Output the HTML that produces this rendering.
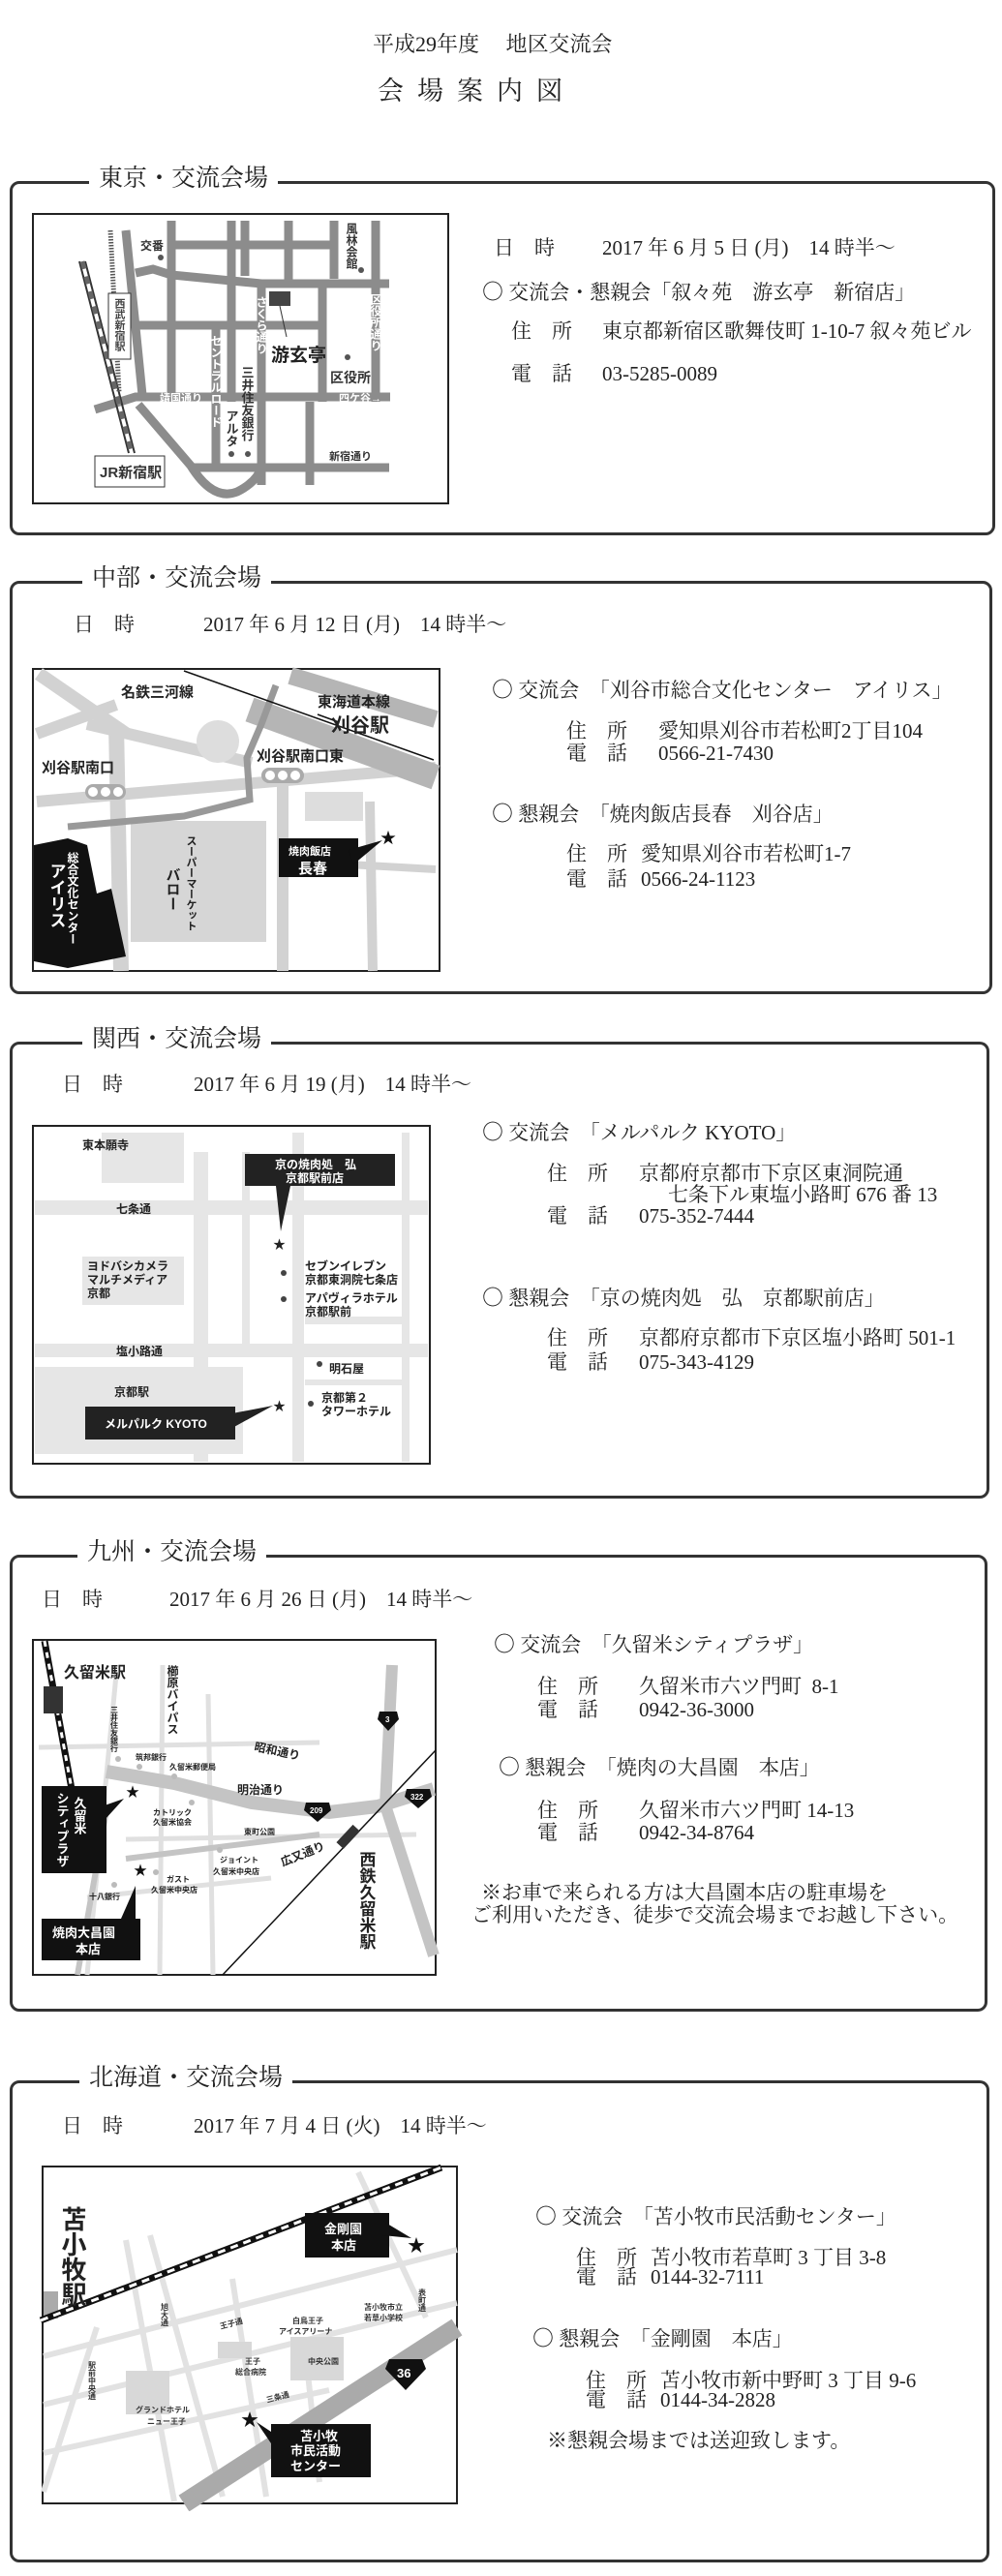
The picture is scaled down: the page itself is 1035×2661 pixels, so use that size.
<!DOCTYPE html>
<html><head><meta charset="utf-8">
<style>
html,body{margin:0;padding:0;background:#fff;}
body{width:1035px;height:2661px;position:relative;overflow:hidden;font-family:"Liberation Serif","Noto Serif CJK JP",serif;color:#222;}
.t{position:absolute;font-size:21px;line-height:24px;white-space:pre;}
.c{font-family:"Noto Serif CJK JP",serif;font-size:22px;}
.box{position:absolute;border:3px solid #333;border-radius:10px;box-sizing:border-box;}
.lab{position:absolute;background:#fff;font-size:25px;line-height:30px;padding:0 10px;white-space:pre;font-family:"Liberation Serif","Noto Serif CJK JP",serif;}
svg{position:absolute;}
svg text{font-family:"Liberation Sans","Noto Sans CJK JP",sans-serif;font-weight:bold;}
</style></head><body>

<div class="t" style="left:385px;top:34px;font-size:22px;">平成29年度　 地区交流会</div>
<div class="t" style="left:390px;top:78px;font-size:27px;line-height:32px;letter-spacing:14px;">会場案内図</div>

<!-- TOKYO -->
<div class="box" style="left:10px;top:187px;width:1018px;height:366px;"></div>
<div class="lab" style="left:92px;top:170px;">東京・交流会場</div>
<svg style="left:30px;top:218px" width="440" height="310" viewBox="0 0 440 310">
<rect x="4" y="3" width="429" height="299" fill="#fff" stroke="#222" stroke-width="2"/>
<g stroke="#8c8c8c" stroke-width="9" fill="none">
<line x1="147" y1="10" x2="147" y2="197"/><line x1="209" y1="10" x2="209" y2="197"/>
<line x1="223" y1="10" x2="223" y2="67"/><line x1="240" y1="77" x2="240" y2="283"/>
<line x1="268" y1="10" x2="268" y2="77"/><line x1="303" y1="77" x2="303" y2="197"/>
<line x1="315" y1="10" x2="315" y2="70"/><line x1="358" y1="10" x2="358" y2="197"/>
<line x1="193" y1="120" x2="193" y2="262"/><line x1="290" y1="197" x2="290" y2="283"/>
<line x1="100" y1="20" x2="117" y2="190"/>
<line x1="147" y1="35" x2="315" y2="35"/>
<polyline points="110,64 128,60 147,66 240,75 372,75"/>
<line x1="113" y1="118" x2="303" y2="118"/>
<polyline points="68,205 110,192 373,192"/>
<line x1="167" y1="265" x2="372" y2="265"/>
<path d="M113,200 L167,263 Q190,300 215,290 Q235,280 240,265"/>
</g>
<g stroke="#333" stroke-width="2"><line x1="52" y1="52" x2="103" y2="250"/><line x1="58" y1="52" x2="109" y2="250"/></g>
<line x1="55" y1="52" x2="106" y2="250" stroke="#666" stroke-width="5" stroke-dasharray="8,8"/>
<line x1="84" y1="20" x2="93" y2="187" stroke="#555" stroke-width="5" stroke-dasharray="1.5,1.5"/>
<rect x="82" y="85" width="23" height="68" fill="#fff" stroke="#333"/>
<text x="93" y="90" font-size="11" fill="#444" style="writing-mode:vertical-rl">西武新宿駅</text>
<rect x="68" y="253" width="72" height="32" fill="#fff" stroke="#333"/>
<text x="73" y="275" font-size="15" font-weight="normal" fill="#333">JR新宿駅</text>
<rect x="248" y="83" width="22" height="15" fill="#444"/><line x1="259" y1="98" x2="266" y2="130" stroke="#333"/>
<text x="250" y="155" font-size="19" font-weight="normal" fill="#222">游玄亭</text>
<text x="311" y="177" font-size="14" font-weight="normal" fill="#333">区役所</text>
<circle cx="329" cy="151" r="3" fill="#555"/><circle cx="136" cy="48" r="3" fill="#555"/><circle cx="343" cy="61" r="3" fill="#555"/>
<circle cx="209" cy="251" r="3" fill="#555"/><circle cx="226" cy="251" r="3" fill="#555"/>
<text x="115" y="40" font-size="12" font-weight="normal" fill="#333">交番</text>
<text x="333" y="12" font-size="12" font-weight="normal" fill="#333" style="writing-mode:vertical-rl">風林会館</text>
<text x="240" y="88" font-size="12" font-weight="normal" fill="#fff" style="writing-mode:vertical-rl">さくら通り</text>
<text x="193" y="128" font-size="12" font-weight="normal" fill="#fff" style="writing-mode:vertical-rl">セントラルロード</text>
<text x="358" y="85" font-size="12" font-weight="normal" fill="#fff" style="writing-mode:vertical-rl">区役所通り</text>
<text x="225" y="160" font-size="13" font-weight="normal" fill="#333" style="writing-mode:vertical-rl">三井住友銀行</text>
<text x="209" y="205" font-size="13" font-weight="normal" fill="#333" style="writing-mode:vertical-rl">アルタ</text>
<text x="135" y="197" font-size="11" font-weight="normal" fill="#fff">靖国通り</text>
<text x="320" y="197" font-size="11" font-weight="normal" fill="#fff">四ケ谷→</text>
<text x="310" y="257" font-size="11" font-weight="normal" fill="#333">新宿通り</text>
</svg>
<div class="t" style="left:510px;top:244px;">日　時</div>
<div class="t" style="left:622px;top:244px;">2017 年 6 月 5 日 (月)　14 時半〜</div>
<div class="t" style="left:498px;top:289px;"><span class="c">○</span> 交流会・懇親会「叙々苑　游玄亭　新宿店」</div>
<div class="t" style="left:528px;top:330px;">住　所</div>
<div class="t" style="left:622px;top:330px;">東京都新宿区歌舞伎町 1-10-7 叙々苑ビル</div>
<div class="t" style="left:528px;top:374px;">電　話</div>
<div class="t" style="left:622px;top:374px;">03-5285-0089</div>

<!-- CHUBU -->
<div class="box" style="left:10px;top:600px;width:1015px;height:427px;"></div>
<div class="lab" style="left:85px;top:583px;">中部・交流会場</div>
<div class="t" style="left:76px;top:633px;">日　時</div>
<div class="t" style="left:210px;top:633px;">2017 年 6 月 12 日 (月)　14 時半〜</div>
<svg style="left:30px;top:688px" width="430" height="320" viewBox="0 0 430 320">
<rect x="4" y="3" width="420" height="312" fill="#fff" stroke="#222" stroke-width="2"/>
<g stroke="#d2d2d2" fill="none">
<line x1="90" y1="60" x2="95" y2="315" stroke-width="16"/>
<line x1="262" y1="110" x2="262" y2="315" stroke-width="12"/>
<line x1="352" y1="140" x2="355" y2="315" stroke-width="10"/>
<line x1="8" y1="140" x2="420" y2="105" stroke-width="12"/>
<line x1="8" y1="70" x2="90" y2="40" stroke-width="12"/>
<line x1="10" y1="8" x2="100" y2="70" stroke-width="14"/>
<line x1="60" y1="60" x2="230" y2="100" stroke-width="12"/>
<line x1="330" y1="205" x2="420" y2="210" stroke-width="8"/>
</g>
<rect x="105" y="160" width="140" height="125" fill="#d6d6d6"/>
<rect x="285" y="130" width="60" height="30" fill="#ddd"/>
<circle cx="195" cy="78" r="22" fill="#ddd"/>
<g stroke="#b5b5b5" fill="none"><line x1="228" y1="45" x2="420" y2="115" stroke-width="26"/><line x1="270" y1="10" x2="420" y2="55" stroke-width="18"/></g>
<polyline points="40,166 160,155 228,138 225,95 240,60 255,20" fill="none" stroke="#999" stroke-width="7"/>
<line x1="160" y1="5" x2="418" y2="97" stroke="#111" stroke-width="1.5"/>
<line x1="298" y1="50" x2="320" y2="58" stroke="#111" stroke-width="1.5"/>
<polygon points="5,185 40,178 60,185 70,235 85,230 100,300 40,312 5,305" fill="#111"/>
<g fill="#aaa"><rect x="58" y="122" width="42" height="16" rx="8"/><rect x="240" y="105" width="44" height="16" rx="8"/></g>
<g fill="#fff"><circle cx="66" cy="130" r="5"/><circle cx="79" cy="130" r="5"/><circle cx="92" cy="130" r="5"/><circle cx="249" cy="113" r="5"/><circle cx="262" cy="113" r="5"/><circle cx="275" cy="113" r="5"/></g>
<text x="95" y="32" font-size="15" fill="#222">名鉄三河線</text>
<text x="298" y="42" font-size="15" fill="#222">東海道本線</text>
<text x="312" y="68" font-size="20" fill="#222">刈谷駅</text>
<text x="235" y="98" font-size="15" fill="#222">刈谷駅南口東</text>
<text x="13" y="110" font-size="15" fill="#222">刈谷駅南口</text>
<text x="45" y="192" font-size="12" fill="#fff" style="writing-mode:vertical-rl">総合文化センター</text>
<text x="28" y="203" font-size="17" fill="#fff" style="writing-mode:vertical-rl">アイリス</text>
<text x="167" y="175" font-size="11" fill="#222" style="writing-mode:vertical-rl">スーパーマーケット</text>
<text x="148" y="208" font-size="15" fill="#222" style="writing-mode:vertical-rl">バロー</text>
<rect x="258" y="178" width="82" height="40" fill="#111"/>
<polygon points="330,190 365,180 335,205" fill="#111"/>
<text x="268" y="195" font-size="11" fill="#fff">焼肉飯店</text>
<text x="278" y="214" font-size="15" fill="#fff">長春</text>
<text x="363" y="183" font-size="16" fill="#111" font-weight="normal">★</text>
</svg>
<div class="t" style="left:508px;top:700px;"><span class="c">○</span> 交流会　「刈谷市総合文化センター　アイリス」</div>
<div class="t" style="left:585px;top:743px;">住　所</div>
<div class="t" style="left:680px;top:743px;">愛知県刈谷市若松町2丁目104</div>
<div class="t" style="left:585px;top:766px;">電　話</div>
<div class="t" style="left:680px;top:766px;">0566-21-7430</div>
<div class="t" style="left:508px;top:828px;"><span class="c">○</span> 懇親会　「焼肉飯店長春　刈谷店」</div>
<div class="t" style="left:585px;top:870px;">住　所</div>
<div class="t" style="left:662px;top:870px;">愛知県刈谷市若松町1-7</div>
<div class="t" style="left:585px;top:896px;">電　話</div>
<div class="t" style="left:662px;top:896px;">0566-24-1123</div>

<!-- KANSAI -->
<div class="box" style="left:10px;top:1076px;width:1012px;height:472px;"></div>
<div class="lab" style="left:85px;top:1059px;">関西・交流会場</div>
<div class="t" style="left:64px;top:1108px;">日　時</div>
<div class="t" style="left:200px;top:1108px;">2017 年 6 月 19 (月)　14 時半〜</div>
<svg style="left:30px;top:1160px" width="420" height="360" viewBox="0 0 420 360">
<rect x="4" y="3" width="410" height="349" fill="#fff" stroke="#222" stroke-width="2"/>
<g fill="#e6e6e6">
<rect x="75" y="10" width="85" height="52"/>
<rect x="6" y="80" width="406" height="15"/>
<rect x="6" y="228" width="406" height="14"/>
<rect x="170" y="30" width="15" height="320"/>
<rect x="272" y="10" width="12" height="340"/>
<rect x="385" y="10" width="8" height="340"/>
<rect x="55" y="138" width="105" height="50"/>
<rect x="6" y="252" width="215" height="90"/>
<rect x="220" y="30" width="8" height="200"/>
<rect x="285" y="200" width="100" height="8"/>
<rect x="285" y="265" width="100" height="6"/>
</g>
<text x="55" y="27" font-size="12" fill="#222">東本願寺</text>
<text x="90" y="93" font-size="12" fill="#222">七条通</text>
<text x="60" y="152" font-size="12" fill="#222">ヨドバシカメラ</text>
<text x="60" y="166" font-size="12" fill="#222">マルチメディア</text>
<text x="60" y="180" font-size="12" fill="#222">京都</text>
<text x="90" y="240" font-size="12" fill="#222">塩小路通</text>
<text x="88" y="282" font-size="12" fill="#222">京都駅</text>
<text x="285" y="152" font-size="12" fill="#222">セブンイレブン</text>
<text x="285" y="166" font-size="12" fill="#222">京都東洞院七条店</text>
<text x="285" y="185" font-size="12" fill="#222">アパヴィラホテル</text>
<text x="285" y="199" font-size="12" fill="#222">京都駅前</text>
<text x="310" y="258" font-size="12" fill="#222">明石屋</text>
<text x="302" y="288" font-size="12" fill="#222">京都第２</text>
<text x="302" y="302" font-size="12" fill="#222">タワーホテル</text>
<g fill="#444"><circle cx="263" cy="155" r="3"/><circle cx="263" cy="182" r="3"/><circle cx="300" cy="249" r="3"/><circle cx="291" cy="290" r="3"/></g>
<rect x="223" y="32" width="155" height="33" fill="#222"/>
<polygon points="255,65 270,65 260,112" fill="#222"/>
<text x="254" y="47" font-size="12" fill="#fff">京の焼肉処　弘</text>
<text x="265" y="61" font-size="12" fill="#fff">京都駅前店</text>
<rect x="58" y="293" width="155" height="34" fill="#222"/>
<polygon points="210,300 252,292 210,315" fill="#222"/>
<text x="78" y="315" font-size="12" fill="#fff">メルパルク KYOTO</text>
<text x="252" y="130" font-size="13" fill="#222" font-weight="normal">★</text>
<text x="252" y="297" font-size="13" fill="#222" font-weight="normal">★</text>
</svg>
<div class="t" style="left:498px;top:1157px;"><span class="c">○</span> 交流会　「メルパルク KYOTO」</div>
<div class="t" style="left:565px;top:1200px;">住　所</div>
<div class="t" style="left:660px;top:1200px;">京都府京都市下京区東洞院通</div>
<div class="t" style="left:690px;top:1222px;">七条下ル東塩小路町 676 番 13</div>
<div class="t" style="left:565px;top:1244px;">電　話</div>
<div class="t" style="left:660px;top:1244px;">075-352-7444</div>
<div class="t" style="left:498px;top:1328px;"><span class="c">○</span> 懇親会　「京の焼肉処　弘　京都駅前店」</div>
<div class="t" style="left:565px;top:1370px;">住　所</div>
<div class="t" style="left:660px;top:1370px;">京都府京都市下京区塩小路町 501-1</div>
<div class="t" style="left:565px;top:1395px;">電　話</div>
<div class="t" style="left:660px;top:1395px;">075-343-4129</div>

<!-- KYUSHU -->
<div class="box" style="left:10px;top:1606px;width:1010px;height:472px;"></div>
<div class="lab" style="left:80px;top:1589px;">九州・交流会場</div>
<div class="t" style="left:43px;top:1640px;">日　時</div>
<div class="t" style="left:175px;top:1640px;">2017 年 6 月 26 日 (月)　14 時半〜</div>
<svg style="left:30px;top:1690px" width="430" height="355" viewBox="0 0 430 355">
<rect x="4" y="4" width="416" height="346" fill="#fff" stroke="#222" stroke-width="2"/>
<g stroke="#e0e0e0" stroke-width="5" fill="none">
<line x1="138" y1="30" x2="135" y2="350"/><line x1="185" y1="60" x2="190" y2="350"/>
<line x1="10" y1="115" x2="300" y2="110"/><line x1="100" y1="210" x2="400" y2="205"/>
<line x1="60" y1="270" x2="250" y2="250"/><line x1="90" y1="40" x2="60" y2="350"/>
</g>
<g stroke="#c4c4c4" fill="none">
<polyline points="80,140 150,152 230,172 310,182 360,176 418,158" stroke-width="14"/>
<polyline points="375,30 368,175 418,330" stroke-width="12"/>
<line x1="100" y1="230" x2="300" y2="205" stroke-width="6"/>
<line x1="80" y1="180" x2="50" y2="350" stroke-width="6"/>
</g>
<line x1="16" y1="5" x2="44" y2="158" stroke="#111" stroke-width="7"/>
<line x1="16" y1="5" x2="44" y2="158" stroke="#fff" stroke-width="3" stroke-dasharray="6,6"/>
<rect x="15" y="52" width="20" height="28" fill="#333"/>
<line x1="200" y1="350" x2="420" y2="118" stroke="#111" stroke-width="1.5"/>
<rect x="325" y="195" width="10" height="25" fill="#333" transform="rotate(43 330 207)"/>
<g fill="#bbb"><circle cx="92" cy="127" r="3"/><circle cx="114" cy="135" r="3"/><circle cx="150" cy="145" r="3"/><circle cx="168" cy="172" r="3"/><circle cx="197" cy="221" r="3"/><circle cx="131" cy="244" r="3"/><circle cx="88" cy="257" r="3"/></g>
<text x="36" y="43" font-size="16" fill="#222">久留米駅</text>
<text x="148" y="30" font-size="12" fill="#222" style="writing-mode:vertical-rl">櫛原バイパス</text>
<text x="88" y="72" font-size="8" fill="#222" style="writing-mode:vertical-rl">三井住友銀行</text>
<text x="110" y="128" font-size="8" fill="#222">筑邦銀行</text>
<text x="145" y="138" font-size="8" fill="#222">久留米郵便局</text>
<text x="232" y="118" font-size="12" fill="#222" transform="rotate(12 232 118)">昭和通り</text>
<text x="215" y="163" font-size="12" fill="#222">明治通り</text>
<text x="128" y="185" font-size="8" fill="#222">カトリック</text>
<text x="128" y="195" font-size="8" fill="#222">久留米協会</text>
<text x="222" y="205" font-size="8" fill="#222">東町公園</text>
<text x="197" y="234" font-size="8" fill="#222">ジョイント</text>
<text x="190" y="246" font-size="8" fill="#222">久留米中央店</text>
<text x="142" y="254" font-size="8" fill="#222">ガスト</text>
<text x="126" y="265" font-size="8" fill="#222">久留米中央店</text>
<text x="62" y="272" font-size="8" fill="#222">十八銀行</text>
<text x="262" y="238" font-size="12" fill="#222" transform="rotate(-22 262 238)">広又通り</text>
<text x="348" y="222" font-size="17" fill="#222" style="writing-mode:vertical-rl">西鉄久留米駅</text>
<rect x="13" y="155" width="67" height="90" fill="#111"/>
<polygon points="78,175 98,168 78,190" fill="#111"/>
<text x="52" y="166" font-size="13" fill="#fff" style="writing-mode:vertical-rl">久留米</text>
<text x="34" y="161" font-size="13" fill="#fff" style="writing-mode:vertical-rl">シティプラザ</text>
<rect x="13" y="292" width="102" height="43" fill="#111"/>
<polygon points="95,292 110,258 110,292" fill="#111"/>
<text x="24" y="311" font-size="13" fill="#fff">焼肉大昌園</text>
<text x="48" y="328" font-size="13" fill="#fff">本店</text>
<text x="100" y="166" font-size="14" fill="#111" font-weight="normal">★</text>
<text x="108" y="247" font-size="14" fill="#111" font-weight="normal">★</text>
<g fill="#111"><path d="M362,78 h18 l2,8 l-11,12 l-11,-12z"/><path d="M286,172 h24 l2,8 l-14,12 l-14,-12z"/><path d="M390,158 h24 l2,8 l-14,12 l-14,-12z"/></g>
<text x="368" y="89" font-size="8" fill="#fff">3</text>
<text x="290" y="183" font-size="8" fill="#fff">209</text>
<text x="394" y="169" font-size="8" fill="#fff">322</text>
</svg>
<div class="t" style="left:510px;top:1686px;"><span class="c">○</span> 交流会　「久留米シティプラザ」</div>
<div class="t" style="left:555px;top:1730px;">住　所</div>
<div class="t" style="left:660px;top:1730px;">久留米市六ツ門町  8-1</div>
<div class="t" style="left:555px;top:1754px;">電　話</div>
<div class="t" style="left:660px;top:1754px;">0942-36-3000</div>
<div class="t" style="left:515px;top:1813px;"><span class="c">○</span> 懇親会　「焼肉の大昌園　本店」</div>
<div class="t" style="left:555px;top:1858px;">住　所</div>
<div class="t" style="left:660px;top:1858px;">久留米市六ツ門町 14-13</div>
<div class="t" style="left:555px;top:1881px;">電　話</div>
<div class="t" style="left:660px;top:1881px;">0942-34-8764</div>
<div class="t" style="left:497px;top:1943px;">※お車で来られる方は大昌園本店の駐車場を</div>
<div class="t" style="left:487px;top:1966px;">ご利用いただき、徒歩で交流会場までお越し下さい。</div>

<!-- HOKKAIDO -->
<div class="box" style="left:10px;top:2149px;width:1012px;height:498px;"></div>
<div class="lab" style="left:82px;top:2132px;">北海道・交流会場</div>
<div class="t" style="left:64px;top:2184px;">日　時</div>
<div class="t" style="left:200px;top:2184px;">2017 年 7 月 4 日 (火)　14 時半〜</div>
<svg style="left:40px;top:2234px" width="440" height="360" viewBox="0 0 440 360">
<rect x="4" y="4" width="428" height="348" fill="#fff" stroke="#222" stroke-width="2"/>
<g stroke="#e2e2e2" stroke-width="6" fill="none">
<line x1="90" y1="80" x2="140" y2="350"/><line x1="115" y1="75" x2="190" y2="345"/>
<line x1="200" y1="120" x2="235" y2="345"/><line x1="275" y1="190" x2="290" y2="330"/>
<line x1="330" y1="10" x2="400" y2="160"/><line x1="5" y1="200" x2="432" y2="90"/>
<line x1="5" y1="250" x2="432" y2="145"/><line x1="5" y1="300" x2="300" y2="235"/>
<line x1="60" y1="170" x2="5" y2="340"/>
</g>
<g fill="#d8d8d8"><rect x="90" y="215" width="45" height="45"/><rect x="185" y="185" width="35" height="17"/><rect x="260" y="180" width="55" height="45"/></g>
<rect x="5" y="133" width="15" height="28" fill="#aaa"/>
<line x1="150" y1="352" x2="432" y2="170" stroke="#aaa" stroke-width="20"/>
<line x1="2" y1="163" x2="416" y2="5" stroke="#111" stroke-width="7"/>
<line x1="2" y1="163" x2="416" y2="5" stroke="#fff" stroke-width="3" stroke-dasharray="8,6"/>
<text x="35" y="45" font-size="26" fill="#222" style="writing-mode:vertical-rl">苫小牧駅</text>
<text x="130" y="145" font-size="8" fill="#333" style="writing-mode:vertical-rl">旭大通</text>
<text x="55" y="205" font-size="8" fill="#333" style="writing-mode:vertical-rl">駅前中央通</text>
<text x="188" y="172" font-size="8" fill="#333" transform="rotate(-15 188 172)">王子通</text>
<text x="262" y="166" font-size="8" fill="#333">白鳥王子</text>
<text x="248" y="177" font-size="8" fill="#333">アイスアリーナ</text>
<text x="336" y="152" font-size="8" fill="#333">苫小牧市立</text>
<text x="336" y="163" font-size="8" fill="#333">若草小学校</text>
<text x="213" y="208" font-size="8" fill="#333">王子</text>
<text x="203" y="219" font-size="8" fill="#333">総合病院</text>
<text x="278" y="208" font-size="8" fill="#333">中央公園</text>
<text x="236" y="248" font-size="8" fill="#333" transform="rotate(-15 236 248)">三条通</text>
<text x="100" y="258" font-size="8" fill="#333">グランドホテル</text>
<text x="112" y="270" font-size="8" fill="#333">ニュー王子</text>
<text x="396" y="130" font-size="8" fill="#333" style="writing-mode:vertical-rl">表町通</text>
<rect x="275" y="52" width="87" height="46" fill="#111"/>
<polygon points="355,60 385,78 355,75" fill="#111"/>
<text x="295" y="73" font-size="13" fill="#fff">金剛園</text>
<text x="302" y="90" font-size="13" fill="#fff">本店</text>
<rect x="240" y="270" width="103" height="55" fill="#111"/>
<polygon points="240,278 225,268 240,290" fill="#111"/>
<text x="270" y="287" font-size="13" fill="#fff">苫小牧</text>
<text x="260" y="302" font-size="13" fill="#fff">市民活動</text>
<text x="260" y="318" font-size="13" fill="#fff">センター</text>
<text x="381" y="92" font-size="18" fill="#111" font-weight="normal">★</text>
<text x="209" y="272" font-size="18" fill="#111" font-weight="normal">★</text>
<path d="M362,203 h34 l4,10 l-21,22 l-21,-22z" fill="#111"/>
<text x="370" y="222" font-size="13" fill="#fff">36</text>
</svg>
<div class="t" style="left:553px;top:2277px;"><span class="c">○</span> 交流会　「苫小牧市民活動センター」</div>
<div class="t" style="left:595px;top:2320px;">住　所</div>
<div class="t" style="left:672px;top:2320px;">苫小牧市若草町 3 丁目 3-8</div>
<div class="t" style="left:595px;top:2340px;">電　話</div>
<div class="t" style="left:672px;top:2340px;">0144-32-7111</div>
<div class="t" style="left:550px;top:2403px;"><span class="c">○</span> 懇親会　「金剛園　本店」</div>
<div class="t" style="left:605px;top:2447px;">住　所</div>
<div class="t" style="left:682px;top:2447px;">苫小牧市新中野町 3 丁目 9-6</div>
<div class="t" style="left:605px;top:2467px;">電　話</div>
<div class="t" style="left:682px;top:2467px;">0144-34-2828</div>
<div class="t" style="left:565px;top:2509px;">※懇親会場までは送迎致します。</div>

</body></html>
